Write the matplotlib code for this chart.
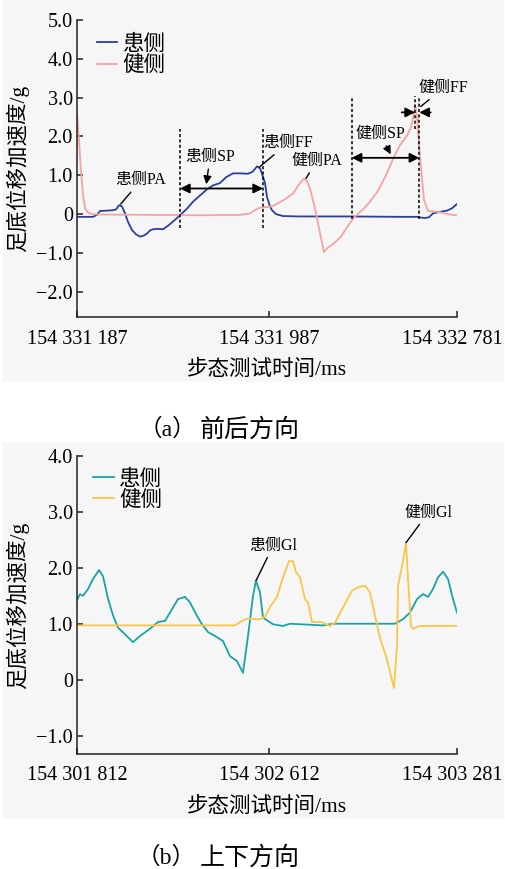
import matplotlib.pyplot as plt
from matplotlib.patches import Rectangle
from matplotlib.transforms import ScaledTranslation

plt.rcParams['font.family'] = ['Liberation Serif', 'Noto Sans CJK SC']

# (a) anterior-posterior acceleration, x is sample index along the record
ap_x_affected = [0, 16, 20, 23, 36, 39, 42, 45, 48, 51, 55, 59, 63, 67, 70, 73, 76, 81, 86, 91,
                 97, 103, 110, 116, 123, 130, 136, 143, 149, 156, 163, 171, 176, 180, 183, 185, 188, 190, 193, 195,
                 199, 206, 223, 273, 323, 341, 344, 348, 352, 356, 363, 370, 375, 380]
ap_affected = [-0.07, -0.07, -0.02, 0.08, 0.10, 0.12, 0.23, 0.20, 0.02, -0.20,
               -0.41, -0.52, -0.58, -0.55, -0.50, -0.42, -0.39, -0.38, -0.39, -0.30,
               -0.17, -0.03, 0.14, 0.32, 0.48, 0.64, 0.74, 0.80, 0.95, 1.05,
               1.05, 1.04, 1.10, 1.23, 1.18, 1.04, 0.80, 0.44, 0.20, 0.10,
               0.00, -0.05, -0.06, -0.06, -0.07, -0.07, -0.09, -0.10, -0.08, 0.02,
               0.06, 0.09, 0.15, 0.26]
ap_x_healthy = [0, 2, 4, 6, 8, 11, 15, 23, 73, 123, 163, 173, 178, 181, 185, 195, 206, 216, 223, 227,
                230, 233, 236, 239, 243, 247, 250, 257, 264, 271, 278, 286, 293, 301, 309, 316, 323, 330,
                334, 337, 338, 340, 343, 347, 351, 363, 370, 380]
ap_healthy = [2.6, 1.9, 1.1, 0.5, 0.15, 0.04, 0.0, -0.01, -0.02, -0.03,
              -0.02, 0.02, 0.1, 0.15, 0.17, 0.2, 0.35, 0.53, 0.8, 0.92,
              0.85, 0.66, 0.35, 0.03, -0.49, -0.98, -0.88, -0.75,
              -0.58, -0.3, -0.06, 0.12, 0.32, 0.6, 1.0, 1.42, 1.78, 2.02,
              2.24, 2.6, 2.82, 2.5, 1.47, 0.36, 0.08, 0.05, 0.0, -0.03]
ap_xticks = [0, 192, 380]
ap_xticklabels = ['154 331 187', '154 331 987', '154 332 781']
ap_yticks = [-2, -1, 0, 1, 2, 3, 4, 5]

# gait phase boundaries (x, top, bottom)
ap_phase_lines = [(103, 2.2, -0.36), (186, 2.18, -0.36), (274.7, 3.03, -0.13),
                  (338, 3.03, 2.18), (342.3, 3.03, -0.13)]

# (b) vertical acceleration
v_x_affected = [0, 3, 6, 11, 16, 22, 26, 31, 36, 41, 48, 56, 63, 73, 81, 88, 93, 101, 108, 113,
                120, 125, 131, 138, 146, 153, 160, 166, 171, 176, 179, 183, 186, 196, 206, 213, 246, 256,
                318, 326, 333, 340, 346, 351, 356, 361, 366, 371, 376, 380]
v_affected = [1.42, 1.53, 1.5, 1.62, 1.8, 1.96, 1.85, 1.45, 1.15, 0.93,
              0.81, 0.67, 0.78, 0.91, 1.03, 1.05, 1.2, 1.44, 1.48, 1.38,
              1.14, 0.99, 0.85, 0.78, 0.69, 0.42, 0.33, 0.12, 0.78, 1.5,
              1.77, 1.56, 1.11, 0.99, 0.96, 1.0, 0.97, 1.0, 1.0, 1.08,
              1.2, 1.44, 1.53, 1.48, 1.62, 1.83, 1.93, 1.8, 1.44, 1.2]
v_x_healthy = [0, 158, 163, 170, 183, 188, 193, 200, 206, 212, 216, 219, 223, 228, 231, 235, 245, 248, 253, 258,
               266, 275, 281, 288, 293, 298, 303, 310, 314, 317, 320, 321, 325, 329, 331, 334, 336, 343, 380]
v_healthy = [0.97, 0.97, 1.03, 1.09, 1.08, 1.13, 1.3, 1.48, 1.83, 2.12,
             2.12, 1.92, 1.83, 1.44, 1.38, 1.03, 1.03, 1.0, 0.96, 1.02,
             1.29, 1.59, 1.65, 1.68, 1.56, 1.14, 0.75, 0.36, 0.06, -0.15,
             0.6, 1.68, 2.03, 2.45, 1.8, 0.96, 0.91, 0.96, 0.96]
v_xticks = [0, 192, 380]
v_xticklabels = ['154 301 812', '154 302 612', '154 303 281']
v_yticks = [-1, 0, 1, 2, 3, 4]

W, H = 505, 869
fig = plt.figure(figsize=(W / 100, H / 100), dpi=100)
fig.patch.set_facecolor('white')
for y0, y1 in [(0, 380), (443, 817)]:
    fig.patches.append(Rectangle((3 / W, 1 - y1 / H), 500 / W, (y1 - y0) / H,
                                 transform=fig.transFigure, color='#f6f6f6', zorder=-5))

ax1 = fig.add_axes([77 / W, 1 - 317 / H, 380 / W, 297 / H])
ax2 = fig.add_axes([77 / W, 1 - 754 / H, 380 / W, 298 / H])


def ylabel_text(v):
    if v == 0:
        return '0'
    return f'{v:.1f}'.replace('-', '\u2212')


def style_axis(ax, xticks, xticklabels, yticks, ylim):
    ax.set_facecolor('none')
    ax.set_xlim(0, 380)
    ax.set_ylim(*ylim)
    for side in ['top', 'right']:
        ax.spines[side].set_visible(False)
    for side in ['left', 'bottom']:
        ax.spines[side].set_linewidth(1.1)
        ax.spines[side].set_color('#222222')
    ax.set_xticks(xticks, xticklabels)
    ax.set_yticks(yticks, [ylabel_text(v) for v in yticks])
    ax.tick_params(direction='in', length=4, width=1.1, labelsize=14.5, color='#222222')
    ax.tick_params(axis='x', pad=9)
    ax.tick_params(axis='y', pad=3)
    # last time label sits a little inside the right edge
    last = ax.get_xticklabels()[-1]
    last.set_transform(last.get_transform() + ScaledTranslation(-5 / 100, 0, fig.dpi_scale_trans))
    ax.set_xlabel('步态测试时间/ms', fontsize=15.5, labelpad=8)
    ax.set_ylabel('足底位移加速度/g', fontsize=15.5, labelpad=5)


def leader(ax, text, xytext, xy, head=False):
    style = '-|>' if head else '-'
    ax.annotate(text, xy=xy, xytext=xytext, fontsize=11.5, ha='center', va='center',
                arrowprops=dict(arrowstyle=style, color='black', lw=1.0,
                                shrinkA=1, shrinkB=0, mutation_scale=12))


def span_arrow(ax, x0, x1, y):
    ax.annotate('', xy=(x1, y), xytext=(x0, y),
                arrowprops=dict(arrowstyle='<|-|>', color='black', lw=1.3,
                                shrinkA=0, shrinkB=0, mutation_scale=14))


# --- (a) ---
ax1.plot(ap_x_affected, ap_affected, color='#2b3f9e', lw=1.3, label='患侧')
ax1.plot(ap_x_healthy, ap_healthy, color='#f4a3a3', lw=1.3, label='健侧')
style_axis(ax1, ap_xticks, ap_xticklabels, ap_yticks, (-2.65, 5.0))
for x, top, bottom in ap_phase_lines:
    ax1.plot([x, x], [bottom, top], color='black', lw=1.1, ls=(0, (2, 1.5)))
span_arrow(ax1, 103, 186, 0.66)
span_arrow(ax1, 274.7, 342.3, 1.45)
for x0, x1 in [(324.7, 338), (353.7, 342.3)]:
    ax1.annotate('', xy=(x1, 2.62), xytext=(x0, 2.62),
                 arrowprops=dict(arrowstyle='-|>', color='black', lw=1.3,
                                 shrinkA=0, shrinkB=0, mutation_scale=14))
leader(ax1, '患侧PA', (64, 0.87), (43.7, 0.26))
leader(ax1, '患侧SP', (133, 1.47), (129.3, 0.77), head=True)
leader(ax1, '患侧FF', (211, 1.83), (182.3, 1.21))
leader(ax1, '健侧PA', (239.7, 1.37), (229, 0.92))
leader(ax1, '健侧SP', (303, 2.07), (313.7, 1.54), head=True)
leader(ax1, '健侧FF', (366.3, 3.25), (343.7, 2.77))
ax1.legend(loc='upper left', bbox_to_anchor=(0.052, 0.95), frameon=False, fontsize=15.5,
           handlelength=0.95, handletextpad=0.25, labelspacing=0.05,
           borderpad=0, borderaxespad=0)

# --- (b) ---
ax2.plot(v_x_affected, v_affected, color='#1aa3a6', lw=1.3, label='患侧')
ax2.plot(v_x_healthy, v_healthy, color='#f8c74a', lw=1.3, label='健侧')
style_axis(ax2, v_xticks, v_xticklabels, v_yticks, (-1.33, 4.0))
leader(ax2, '患侧Gl', (196.3, 2.4), (179, 1.77))
leader(ax2, '健侧Gl', (351.3, 2.99), (329, 2.45))
ax2.legend(loc='upper left', bbox_to_anchor=(0.043, 0.955), frameon=False, fontsize=15.5,
           handlelength=0.95, handletextpad=0.25, labelspacing=0.05,
           borderpad=0, borderaxespad=0)

# panel captions
for y, tag, name in [(430, '（a）', '前后方向'), (858, '（b）', '上下方向')]:
    fig.text(196 / W, 1 - y / H, tag, fontsize=17, ha='right', va='center')
    fig.text(200 / W, 1 - y / H, name, fontsize=18, ha='left', va='center')

fig.savefig('out.png', dpi=100)
